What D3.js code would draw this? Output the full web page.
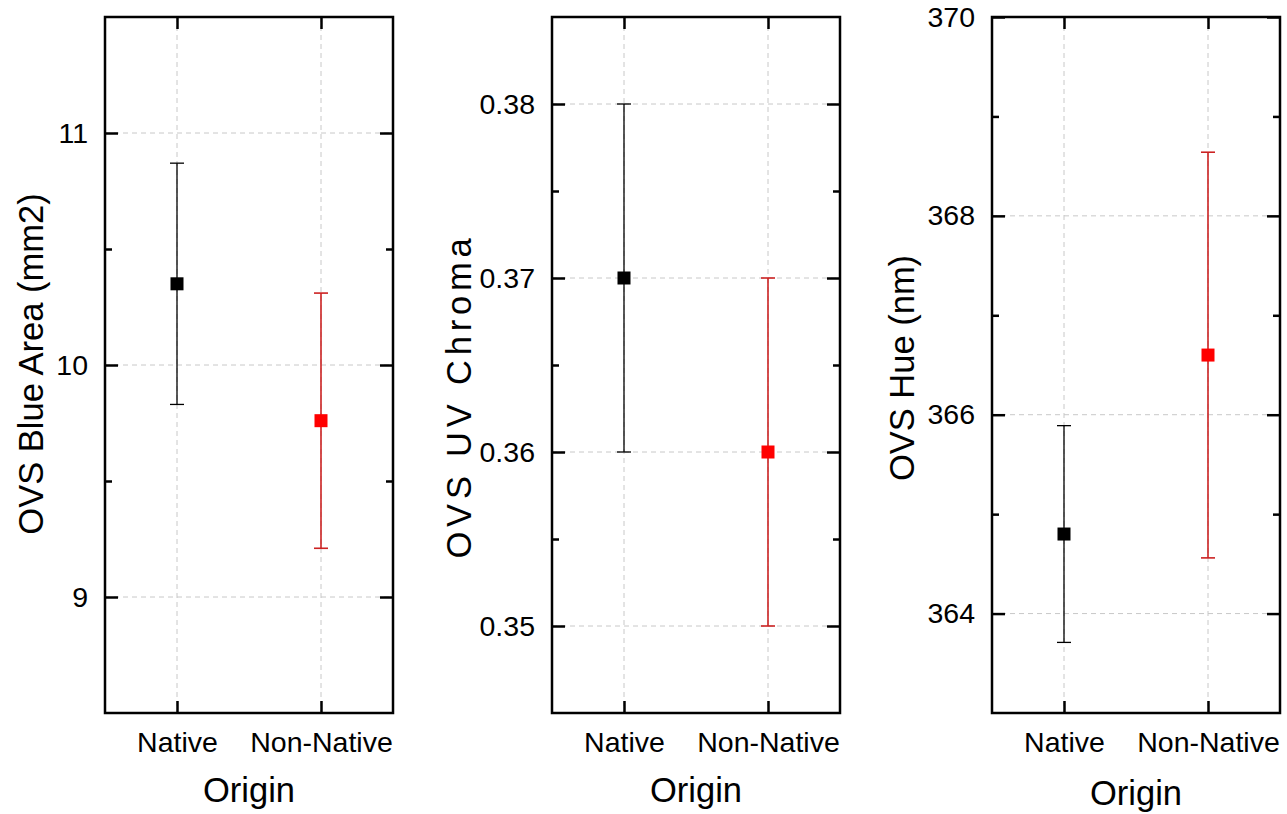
<!DOCTYPE html>
<html>
<head>
<meta charset="utf-8">
<script src="https://cdn.jsdelivr.net/npm/d3@7"></script>
<style>
  body { margin: 0; background: #fff; }
  svg { font-family: "Liberation Sans", Arial, sans-serif; }
</style>
</head>
<body>
<script>
// data
const categories = ["Native", "Non-Native"];
const yTitles = ["OVS Blue Area (mm2)", "OVS UV Chroma", "OVS Hue (nm)"];
const meanValues = [[10.35, 9.76], [0.37, 0.36], [364.8, 366.6]];
const errValues = [[0.52, 0.55], [0.01, 0.01], [1.09, 2.04]];
const yDomains = [[8.5, 11.5], [0.345, 0.385], [363, 370]];
const majorTicks = [[9, 10, 11], [0.35, 0.36, 0.37, 0.38], [364, 366, 368, 370]];
const minorTicks = [[9.5, 10.5], [0.355, 0.365, 0.375], [365, 367, 369]];
const tickFormats = ["d", ".2f", "d"];
const xTitle = "Origin";

const markColors = ["#000000", "#ff0000"];
const barColors = ["#000000", "#cc2222"];

// layout
const W = 1287, H = 814;
const boxLeft = [105, 552, 992];
const boxW = 288, boxTop = 17, boxH = 696;
const yTitleX = [43, 471, 914];
const yTitleY = [364, 396, 368];
const yTitleSpacing = [0, 4.8, 0];
const xTitleY = [802, 802, 805];

let svg = d3.select("body").append("svg")
    .attr("width", W)
    .attr("height", H);

yTitles.forEach(function(title, i) {
    let g = svg.append("g")
        .attr("transform", "translate(" + boxLeft[i] + "," + boxTop + ")");

    let x = d3.scalePoint()
        .domain(categories)
        .range([0, boxW])
        .padding(0.5);

    let y = d3.scaleLinear()
        .domain(yDomains[i])
        .range([boxH, 0]);

    // grid
    g.selectAll(".hgrid")
        .data(majorTicks[i])
      .enter().append("line")
        .attr("x1", 0).attr("x2", boxW)
        .attr("y1", d => y(d)).attr("y2", d => y(d))
        .attr("stroke", "#c8c8c8")
        .attr("stroke-width", 1)
        .attr("stroke-dasharray", "5,4");

    g.selectAll(".vgrid")
        .data(categories)
      .enter().append("line")
        .attr("x1", d => x(d)).attr("x2", d => x(d))
        .attr("y1", 0).attr("y2", boxH)
        .attr("stroke", "#c8c8c8")
        .attr("stroke-width", 1)
        .attr("stroke-dasharray", "5,4");

    // axes, ticks pointing inward
    let yLeft = g.append("g")
        .call(d3.axisLeft(y).tickValues(majorTicks[i]).tickSizeInner(-13).tickSizeOuter(0)
            .tickPadding(17).tickFormat(d3.format(tickFormats[i])));
    let yLeftMinor = g.append("g")
        .call(d3.axisLeft(y).tickValues(minorTicks[i]).tickSizeInner(-7).tickSizeOuter(0).tickFormat(""));
    let yRight = g.append("g")
        .attr("transform", "translate(" + boxW + ",0)")
        .call(d3.axisRight(y).tickValues(majorTicks[i]).tickSizeInner(-13).tickSizeOuter(0).tickFormat(""));
    let yRightMinor = g.append("g")
        .attr("transform", "translate(" + boxW + ",0)")
        .call(d3.axisRight(y).tickValues(minorTicks[i]).tickSizeInner(-7).tickSizeOuter(0).tickFormat(""));
    let xBottom = g.append("g")
        .attr("transform", "translate(0," + boxH + ")")
        .call(d3.axisBottom(x).tickSizeInner(-12).tickSizeOuter(0).tickPadding(19));
    let xTop = g.append("g")
        .call(d3.axisTop(x).tickSizeInner(-12).tickSizeOuter(0).tickFormat(""));

    [yLeft, yLeftMinor, yRight, yRightMinor, xBottom, xTop].forEach(function(ax) {
        ax.select(".domain").remove();
        ax.selectAll(".tick line").attr("stroke", "#000").attr("stroke-width", 2.5);
        ax.selectAll(".tick text")
            .attr("fill", "#000")
            .style("font-size", "28.5px")
            .style("font-family", "'Liberation Sans', Arial, sans-serif");
    });

    // frame
    g.append("rect")
        .attr("x", 0).attr("y", 0)
        .attr("width", boxW).attr("height", boxH)
        .attr("fill", "none")
        .attr("stroke", "#000")
        .attr("stroke-width", 2.5);

    // error bars
    let pts = categories.map((c, j) => ({ cat: c, mean: meanValues[i][j], err: errValues[i][j], j: j }));

    let bars = g.selectAll(".err")
        .data(pts)
      .enter().append("g")
        .attr("class", "err")
        .attr("stroke", d => barColors[d.j])
        .attr("stroke-width", d => d.j === 0 ? 1.3 : 1.6);

    bars.append("line")
        .attr("x1", d => x(d.cat)).attr("x2", d => x(d.cat))
        .attr("y1", d => y(d.mean - d.err)).attr("y2", d => y(d.mean + d.err));
    bars.append("line")
        .attr("x1", d => x(d.cat) - 7).attr("x2", d => x(d.cat) + 7)
        .attr("y1", d => y(d.mean + d.err)).attr("y2", d => y(d.mean + d.err));
    bars.append("line")
        .attr("x1", d => x(d.cat) - 7).attr("x2", d => x(d.cat) + 7)
        .attr("y1", d => y(d.mean - d.err)).attr("y2", d => y(d.mean - d.err));

    g.selectAll(".pt")
        .data(pts)
      .enter().append("rect")
        .attr("class", "pt")
        .attr("x", d => x(d.cat) - 6.5)
        .attr("y", d => y(d.mean) - 6.5)
        .attr("width", 13).attr("height", 13)
        .attr("fill", d => markColors[d.j]);

    // titles
    svg.append("text")
        .attr("transform", "translate(" + yTitleX[i] + "," + yTitleY[i] + ") rotate(-90)")
        .attr("text-anchor", "middle")
        .style("font-size", "34.5px")
        .style("letter-spacing", yTitleSpacing[i] + "px")
        .text(title);

    svg.append("text")
        .attr("x", boxLeft[i] + boxW / 2)
        .attr("y", xTitleY[i])
        .attr("text-anchor", "middle")
        .style("font-size", "34.5px")
        .text(xTitle);
});
</script>
</body>
</html>
